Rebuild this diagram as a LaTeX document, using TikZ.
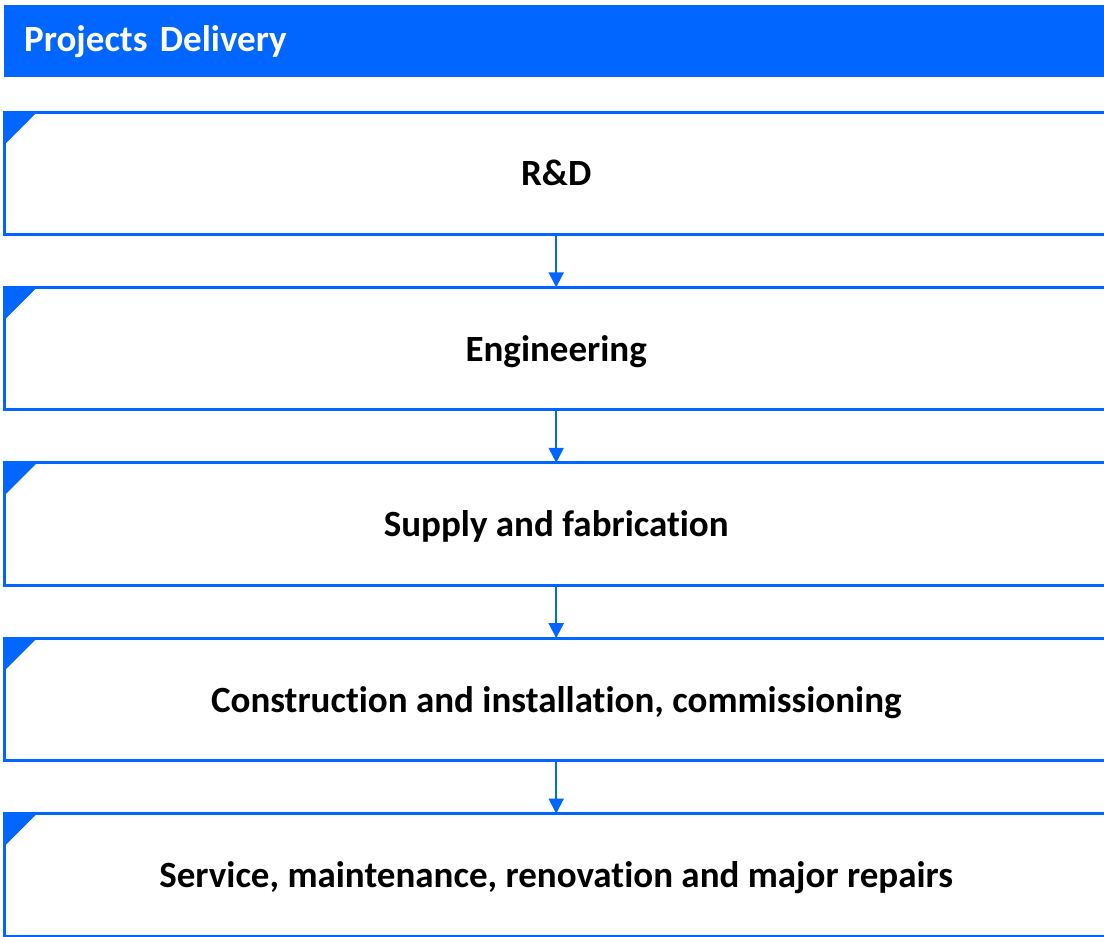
\documentclass[tikz,border=0pt]{standalone}
\usepackage{fontspec}
\setmainfont{Carlito}[RawFeature={-liga}]
\usetikzlibrary{positioning,arrows.meta}
\definecolor{pdblue}{HTML}{0066FF}

\begin{document}
\begin{tikzpicture}[
  x=1pt, y=-1pt,
  node distance=53pt,
  header/.style={rectangle, fill=pdblue, text=white, anchor=north west,
                 minimum width=1100pt, minimum height=72pt, inner xsep=20pt,
                 text width=1060pt, align=left,
                 font=\fontsize{37}{42}\selectfont\bfseries},
  stage/.style={rectangle, minimum width=1104pt, minimum height=122pt,
                inner sep=0pt, text depth=-3pt, font=\fontsize{37}{42}\selectfont\bfseries},
  edge/.style={draw=pdblue, line width=3pt},
  corner/.style={fill=pdblue},
  flow/.style={-{Triangle[length=15pt,width=15pt]}, draw=pdblue, line width=2pt}
]
\useasboundingbox (0,0) rectangle (1104,937);

% ====== NAGLOWEK ======
\node[header] (header) at (4,5) {Projects Delivery};

% ====== ETAPY ======
\node[stage, anchor=north west] (rd) at (4,112) {R\&D};
\node[stage, below=of rd] (eng) {Engineering};
\node[stage, below=of eng] (supply) {Supply and fabrication};
\node[stage, below=of supply] (constr) {Construction and installation, commissioning};
\node[stage, below=of constr] (service) {Service, maintenance, renovation and major repairs};

% ramki otwarte z prawej + trojkat w rogu
\draw[edge] (rd.north east) -- (rd.north west) -- (rd.south west) -- (rd.south east);
\fill[corner] (rd.north west) -- ++(33,0) -- ++(-33,33) -- cycle;

\draw[edge] (eng.north east) -- (eng.north west) -- (eng.south west) -- (eng.south east);
\fill[corner] (eng.north west) -- ++(33,0) -- ++(-33,33) -- cycle;

\draw[edge] (supply.north east) -- (supply.north west) -- (supply.south west) -- (supply.south east);
\fill[corner] (supply.north west) -- ++(33,0) -- ++(-33,33) -- cycle;

\draw[edge] (constr.north east) -- (constr.north west) -- (constr.south west) -- (constr.south east);
\fill[corner] (constr.north west) -- ++(33,0) -- ++(-33,33) -- cycle;

\draw[edge] (service.north east) -- (service.north west) -- (service.south west) -- (service.south east);
\fill[corner] (service.north west) -- ++(33,0) -- ++(-33,33) -- cycle;

% ====== STRZALKI ======
\draw[flow] (rd.south) -- (eng.north);
\draw[flow] (eng.south) -- (supply.north);
\draw[flow] (supply.south) -- (constr.north);
\draw[flow] (constr.south) -- (service.north);

\end{tikzpicture}
\end{document}
